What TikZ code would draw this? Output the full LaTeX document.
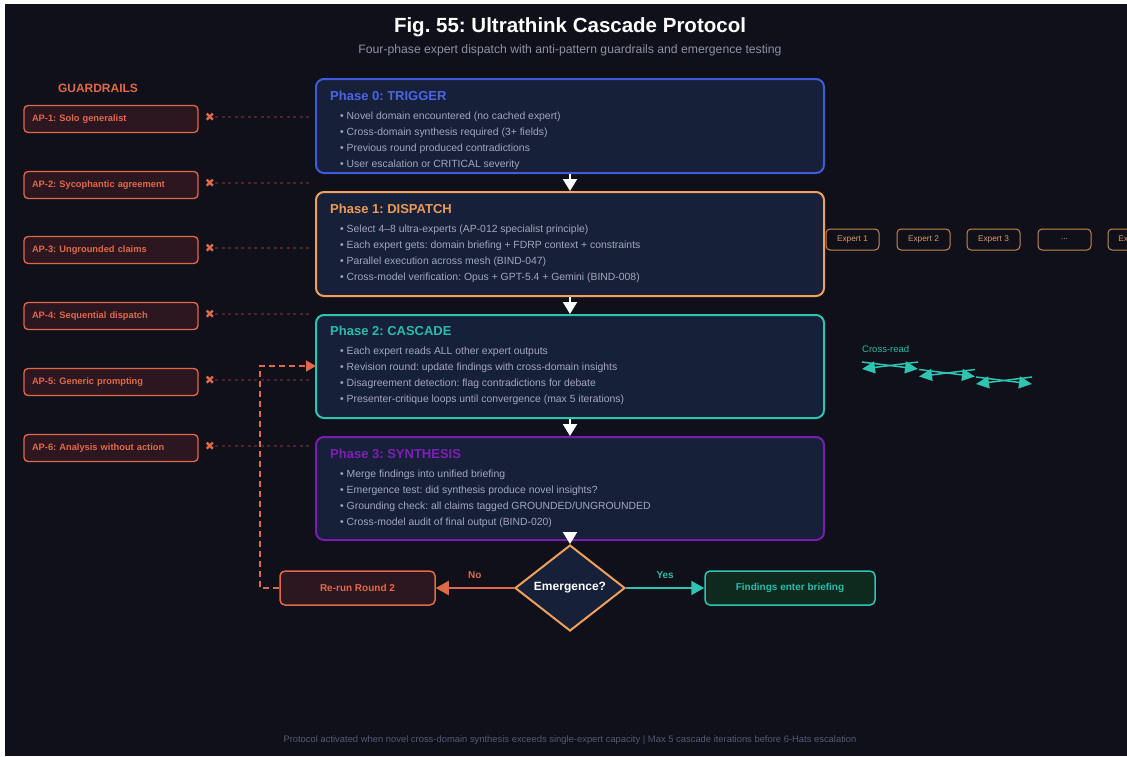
\documentclass[tikz,border=0pt]{standalone}
\usepackage{fontspec}
\setmainfont{Liberation Sans}
\newfontfamily\symfont{DejaVu Sans}
\usetikzlibrary{arrows.meta,shapes.geometric}
\frenchspacing
\definecolor{bg}{HTML}{0F1019}
\definecolor{phasefill}{HTML}{172039}
\definecolor{cblue}{HTML}{3D5BDB}
\definecolor{tblue}{HTML}{4A66E6}
\definecolor{corange}{HTML}{F0A05A}
\definecolor{torange}{HTML}{EE9A55}
\definecolor{cteal}{HTML}{2EC4B0}
\definecolor{tteal}{HTML}{2CBBA8}
\definecolor{cpurple}{HTML}{7A1CAE}
\definecolor{tpurple}{HTML}{7E1FB8}
\definecolor{coral}{HTML}{E0694A}
\definecolor{apfill}{HTML}{2C1720}
\definecolor{bullet}{HTML}{A4A7BB}
\definecolor{subgray}{HTML}{8E92A8}
\definecolor{footgray}{HTML}{555A75}
\definecolor{guardline}{HTML}{4E2429}
\definecolor{greenfill}{HTML}{0E2A1F}
\definecolor{expborder}{HTML}{C98750}
\definecolor{exptext}{HTML}{D99A68}
\begin{document}
\begin{tikzpicture}[x=1pt,y=-1pt,
  phasebox/.style={draw, line width=2pt, fill=phasefill, rounded corners=8pt, minimum width=508pt, inner sep=0pt},
  phasetitle/.style={anchor=west, inner sep=0pt, font=\bfseries\fontsize{13}{15}\selectfont},
  bul/.style={anchor=west, inner sep=0pt, text=bullet, font=\fontsize{10.4}{12}\selectfont},
  apbox/.style={draw=coral, line width=1.3pt, fill=apfill, rounded corners=4pt, minimum width=174pt, minimum height=27pt, text width=158pt, inner xsep=8pt, align=left, text=coral, font=\bfseries\fontsize{9.3}{11}\selectfont},
  xmark/.style={text=coral, inner sep=0pt, font=\symfont\fontsize{12}{14}\selectfont},
  guard/.style={draw=guardline, line width=1.5pt, dash pattern=on 3pt off 3.5pt},
  flow/.style={draw=white, line width=2pt, -{Triangle[length=12pt,width=14pt]}},
  expbox/.style={draw=expborder, line width=1pt, rounded corners=4pt, minimum width=53pt, minimum height=21pt, inner sep=0pt, text=exptext, font=\fontsize{8.3}{10}\selectfont},
  crossarrow/.style={draw=cteal, line width=1.5pt, -{Triangle[length=13pt,width=12pt]}},
  resbox/.style={rounded corners=5pt, line width=1.5pt, minimum height=34pt, inner sep=0pt, font=\bfseries\fontsize{10}{12}\selectfont}
]
\useasboundingbox (0,0) rectangle (1127,756);
\clip (0,0) rectangle (1127,756);
\fill[white] (0,0) rectangle (1127,756);
\fill[bg] (5,4) rectangle (1127,756);

% title
\node[text=white, font=\bfseries\fontsize{20.5}{23}\selectfont] (title) at (570,27) {Fig. 55: Ultrathink Cascade Protocol};
\node[text=subgray, font=\fontsize{12.2}{14}\selectfont] (subtitle) at (570,50) {Four-phase expert dispatch with anti-pattern guardrails and emergence testing};

% phase boxes
\node[phasebox, draw=cblue, minimum height=94pt] (p0) at (570,126) {};
\node[phasebox, draw=corange, minimum height=104pt] (p1) at (570,244) {};
\node[phasebox, draw=cteal, minimum height=103pt] (p2) at (570,366.5) {};
\node[phasebox, draw=cpurple, minimum height=103pt] (p3) at (570,488.5) {};

\node[phasetitle, text=tblue] (p0t) at (330,96) {Phase 0: TRIGGER};
\node[phasetitle, text=torange] (p1t) at (330,209) {Phase 1: DISPATCH};
\node[phasetitle, text=tteal] (p2t) at (330,331) {Phase 2: CASCADE};
\node[phasetitle, text=tpurple] (p3t) at (330,454) {Phase 3: SYNTHESIS};

\foreach \t [count=\i] in {{Novel domain encountered (no cached expert)},{Cross-domain synthesis required (3+ fields)},{Previous round produced contradictions},{User escalation or CRITICAL severity}}
  \node[bul] (p0b\i) at (340,{100.5+16*\i}) {• \t};
\foreach \t [count=\i] in {{Select 4–8 ultra-experts (AP-012 specialist principle)},{Each expert gets: domain briefing + FDRP context + constraints},{Parallel execution across mesh (BIND-047)},{Cross-model verification: Opus + GPT-5.4 + Gemini (BIND-008)}}
  \node[bul] (p1b\i) at (340,{213.5+16*\i}) {• \t};
\foreach \t [count=\i] in {{Each expert reads ALL other expert outputs},{Revision round: update findings with cross-domain insights},{Disagreement detection: flag contradictions for debate},{Presenter-critique loops until convergence (max 5 iterations)}}
  \node[bul] (p2b\i) at (340,{335.5+16*\i}) {• \t};
\foreach \t [count=\i] in {{Merge findings into unified briefing},{Emergence test: did synthesis produce novel insights?},{Grounding check: all claims tagged GROUNDED/UNGROUNDED},{Cross-model audit of final output (BIND-020)}}
  \node[bul] (p3b\i) at (340,{458.5+16*\i}) {• \t};

% flow arrows
\draw[flow] (p0.south) -- (p1.north);
\draw[flow] (p1.south) -- (p2.north);
\draw[flow] (p2.south) -- (p3.north);

% decision
\node[diamond, draw=corange, line width=2pt, fill=phasefill, minimum width=110pt, minimum height=86pt, inner sep=0pt, text=white, font=\bfseries\fontsize{12}{14}\selectfont] (dec) at (570,588) {Emergence?};
\draw[flow] (p3.south) -- (dec.north);

\node[resbox, draw=coral, fill=apfill, text=coral, minimum width=155pt] (rerun) at (357.5,588) {Re-run Round 2};
\node[resbox, draw=cteal, fill=greenfill, text=tteal, minimum width=170pt] (find) at (790,588) {Findings enter briefing};

\draw[draw=coral, line width=2pt, -{Triangle[length=13pt,width=14pt]}] (dec.west) -- node[above=5pt, text=coral, font=\bfseries\fontsize{10}{12}\selectfont] (nolab) {No} (rerun.east);
\draw[draw=cteal, line width=2pt, -{Triangle[length=13pt,width=14pt]}] (dec.east) -- node[above=5pt, text=tteal, font=\bfseries\fontsize{10}{12}\selectfont] (yeslab) {Yes} (find.west);

% loop back
\coordinate (loopbot) at (260,588);
\coordinate (looptop) at (260,366);
\coordinate (p2in) at (316,366);
\draw[draw=coral, line width=1.5pt, dash pattern=on 6pt off 4pt, -{Triangle[length=10pt,width=11pt]}] (rerun.west) -- (loopbot) -- (looptop) -- (p2in);

% guardrails
\node[text=coral, font=\bfseries\fontsize{12}{14}\selectfont] (gr) at (98,88) {GUARDRAILS};
\foreach \lab/\y [count=\i] in {{AP-1: Solo generalist}/119,{AP-2: Sycophantic agreement}/185,{AP-3: Ungrounded claims}/250,{AP-4: Sequential dispatch}/316,{AP-5: Generic prompting}/382,{AP-6: Analysis without action}/448}{
  \node[apbox] (ap\i) at (111,\y) {\lab};
  \node[xmark] (x\i) at (210,\y-2) {✖};
  \draw[guard, shorten >=6pt] (x\i.east) -- (x\i.east -| p0.west);
}

% experts
\node[expbox] (e1) at (852.5,239.5) {Expert 1};
\node[expbox] (e2) at (923.5,239.5) {Expert 2};
\node[expbox] (e3) at (993.5,239.5) {Expert 3};
\node[expbox] (e4) at (1064.5,239.5) {...};
\node[expbox] (e5) at (1134.5,239.5) {Expert N};

% cross-read
\node[anchor=west, inner sep=0pt, text=tteal, font=\fontsize{9.5}{11}\selectfont] (cr) at (862,349) {Cross-read};
\foreach \i in {0,1,2}{
  \coordinate (ca\i) at ({862+57*\i},{362+7.5*\i});
  \coordinate (cb\i) at ({918+57*\i},{362+7.5*\i});
  \coordinate (cc\i) at ({862+57*\i},{369+7.5*\i});
  \coordinate (cd\i) at ({918+57*\i},{369+7.5*\i});
  \draw[crossarrow] (ca\i) -- (cd\i);
  \draw[crossarrow] (cb\i) -- (cc\i);
}

% footer
\node[text=footgray, font=\fontsize{9.4}{11}\selectfont] (foot) at (570,740) {Protocol activated when novel cross-domain synthesis exceeds single-expert capacity | Max 5 cascade iterations before 6-Hats escalation};
\end{tikzpicture}
\end{document}
